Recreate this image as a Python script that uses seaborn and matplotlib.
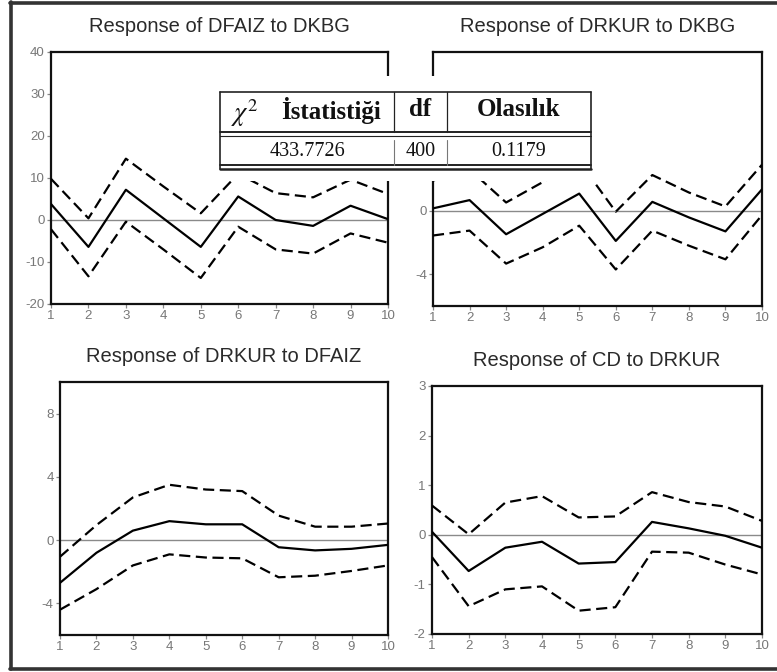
import numpy as np
import pandas as pd
import seaborn as sns
import matplotlib.pyplot as plt
from matplotlib.lines import Line2D
from matplotlib.patches import Rectangle

steps = list(range(1, 11))

# Response of DFAIZ to DKBG
faiz_kbg = [3.8, -6.4, 7.2, 0.4, -6.4, 5.6, 0.0, -1.4, 3.4, 0.2]
faiz_kbg_up = [9.8, 0.4, 14.6, 8.0, 1.6, 11.0, 6.4, 5.4, 9.6, 6.2]
faiz_kbg_lo = [-2.2, -13.4, -0.4, -7.0, -13.8, -1.6, -7.0, -8.0, -3.2, -5.4]

# Response of DRKUR to DKBG
kur_kbg = [0.15, 0.67, -1.48, -0.2, 1.08, -1.9, 0.56, -0.42, -1.3, 1.35]
kur_kbg_up = [1.9, 2.6, 0.52, 1.8, 3.1, -0.06, 2.25, 1.15, 0.27, 2.9]
kur_kbg_lo = [-1.56, -1.25, -3.33, -2.3, -0.94, -3.7, -1.25, -2.2, -3.06, -0.27]

# Response of DRKUR to DFAIZ
kur_faiz = [-2.7, -0.8, 0.6, 1.2, 1.0, 1.0, -0.45, -0.65, -0.55, -0.3]
kur_faiz_up = [-1.05, 0.95, 2.7, 3.5, 3.2, 3.1, 1.55, 0.85, 0.85, 1.05]
kur_faiz_lo = [-4.4, -3.1, -1.6, -0.9, -1.1, -1.15, -2.35, -2.25, -1.95, -1.6]

# Response of CD to DRKUR
cd_kur = [0.06, -0.73, -0.26, -0.14, -0.58, -0.55, 0.26, 0.13, -0.02, -0.26]
cd_kur_up = [0.59, 0.01, 0.65, 0.78, 0.35, 0.37, 0.86, 0.66, 0.57, 0.28]
cd_kur_lo = [-0.45, -1.44, -1.1, -1.04, -1.53, -1.46, -0.34, -0.36, -0.6, -0.8]

titles = ["Response of DFAIZ to DKBG", "Response of DRKUR to DKBG",
          "Response of DRKUR to DFAIZ", "Response of CD to DRKUR"]
table_head = ["İstatistiği", "df", "Olasılık"]
table_vals = ["433.7726", "400", "0.1179"]

sns.set_style("ticks")
plt.rcParams['font.family'] = ['Liberation Sans', 'DejaVu Sans']
plt.rcParams['mathtext.fontset'] = 'stix'

W, H = 777, 672
fig = plt.figure(figsize=(W / 100, H / 100), dpi=100)

def box(x0, y0, x1, y1):
    # pixel box (top-left origin) -> figure fraction rect
    return [x0 / W, 1 - y1 / H, (x1 - x0) / W, (y1 - y0) / H]

# the 4 and 8 labels of the second panel sit under the table
panels = [
    (box(51, 52, 388, 304), faiz_kbg, faiz_kbg_up, faiz_kbg_lo, (-20, 40),
     [-20, -10, 0, 10, 20, 30, 40], ["-20", "-10", "0", "10", "20", "30", "40"]),
    (box(433, 52, 762, 306), kur_kbg, kur_kbg_up, kur_kbg_lo, (-6, 10),
     [-4, 0, 4, 8], ["-4", "0", "", ""]),
    (box(60, 382, 388, 635), kur_faiz, kur_faiz_up, kur_faiz_lo, (-6, 10),
     [-4, 0, 4, 8], ["-4", "0", "4", "8"]),
    (box(432, 386, 762, 634), cd_kur, cd_kur_up, cd_kur_lo, (-2, 3),
     [-2, -1, 0, 1, 2, 3], ["-2", "-1", "0", "1", "2", "3"]),
]

dash = (0, (5, 2.5))
for (rect, mid, up, lo, ylim, yt, ytl), title in zip(panels, titles):
    ax = fig.add_axes(rect)
    ax.axhline(0, color='#8a8a8a', lw=1.0, zorder=1)
    sns.lineplot(x=steps, y=mid, ax=ax, color='black', lw=1.6, zorder=3)
    sns.lineplot(x=steps, y=up, ax=ax, color='black', lw=1.6, zorder=3, linestyle=dash)
    sns.lineplot(x=steps, y=lo, ax=ax, color='black', lw=1.6, zorder=3, linestyle=dash)
    ax.set_xlim(1, 10)
    ax.set_ylim(*ylim)
    ax.set_xticks(steps)
    ax.set_yticks(yt)
    ax.set_yticklabels(ytl)
    ax.tick_params(length=3, width=0.9, color='#888888', labelcolor='#777777',
                   labelsize=9.5, pad=1.5)
    for sp in ax.spines.values():
        sp.set_visible(True)
        sp.set_color('#111111')
        sp.set_linewidth(1.6)
    ax.set_title(title, fontsize=14.5, color='#2a2a2a', pad=14.5)
    ax.set_xlabel('')
    ax.set_ylabel('')

# outer frame
def fig_line(xs, ys, **kw):
    fig.add_artist(Line2D([x / W for x in xs], [1 - y / H for y in ys],
                          transform=fig.transFigure, **kw))

fig_line([11, 11], [2, 669], color='#333333', lw=2.6)
fig_line([10, 777], [2.5, 2.5], color='#333333', lw=2.6)
fig_line([10, 777], [669, 669], color='#333333', lw=2.6)

# white cover and table
r = box(218, 76, 600, 181)
fig.add_artist(Rectangle((r[0], r[1]), r[2], r[3], transform=fig.transFigure,
                         facecolor='white', edgecolor='none', zorder=10))
lk = dict(color='#222222', zorder=11)
fig_line([220, 591], [92, 92], lw=1.2, **lk)
fig_line([220, 591], [132, 132], lw=1.4, **lk)
fig_line([220, 591], [135.5, 135.5], lw=0.8, **lk)
fig_line([220, 591], [165, 165], lw=1.4, **lk)
fig_line([220, 591], [169, 169], lw=1.8, **lk)
fig_line([220, 220], [92, 169], lw=1.2, **lk)
fig_line([591, 591], [92, 169], lw=1.2, **lk)
fig_line([394, 394], [92, 132], lw=0.9, **lk)
fig_line([447, 447], [92, 132], lw=0.9, **lk)
fig_line([394, 394], [140, 165], lw=0.8, color='#777777', zorder=11)
fig_line([447, 447], [140, 165], lw=0.8, color='#777777', zorder=11)

serif = ['Liberation Serif', 'DejaVu Serif']
hk = dict(ha='center', va='center', zorder=12, color='#111111')
fig.text(245 / W, 1 - 113 / H, r'$\chi^2$', fontsize=19, **hk)
fig.text(331 / W, 1 - 111 / H, table_head[0], fontsize=18, fontweight='bold',
         family=serif, **hk)
fig.text(420.5 / W, 1 - 110 / H, table_head[1], fontsize=18, fontweight='bold',
         family=serif, **hk)
fig.text(519 / W, 1 - 110 / H, table_head[2], fontsize=18, fontweight='bold',
         family=serif, **hk)
for xc, v in zip([307, 420.5, 519], table_vals):
    fig.text(xc / W, 1 - 152 / H, v, fontsize=14.5, family=serif, **hk)

fig.savefig('out.png', dpi=100, facecolor='white')
